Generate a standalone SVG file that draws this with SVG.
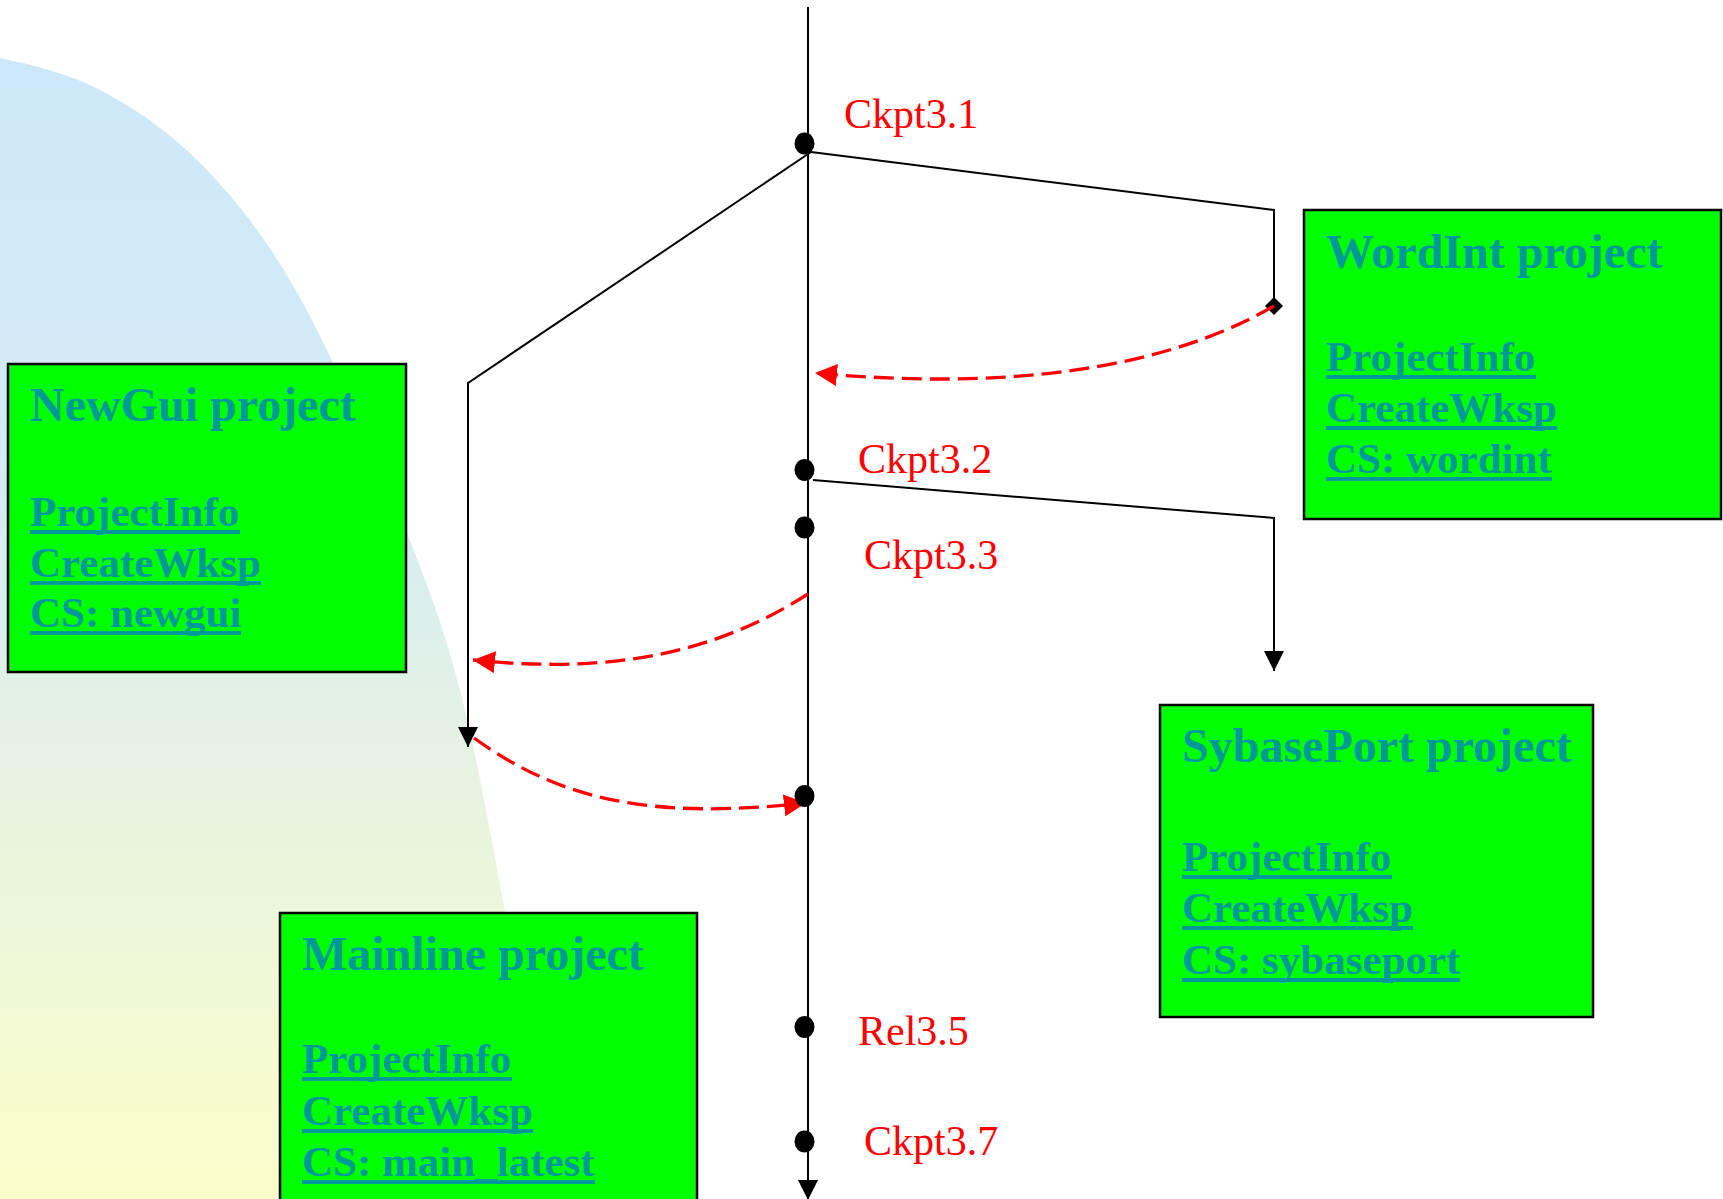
<svg xmlns="http://www.w3.org/2000/svg" width="1723" height="1199" viewBox="0 0 1723 1199">
  <defs>
    <linearGradient id="bgGrad" gradientUnits="userSpaceOnUse" x1="0" y1="58" x2="0" y2="1199">
      <stop offset="0" stop-color="#CDE8FA"/>
      <stop offset="0.38" stop-color="#D5ECF5"/>
      <stop offset="0.6" stop-color="#E4F2E3"/>
      <stop offset="1" stop-color="#FBFDC9"/>
    </linearGradient>
    <marker id="arrowBlack" markerUnits="userSpaceOnUse" markerWidth="20" markerHeight="20" viewBox="0 0 20 20" refX="20" refY="10" orient="auto">
      <path d="M0,0 L20,10 L0,20 Z" fill="#000"/>
    </marker>
    <marker id="arrowRed" markerUnits="userSpaceOnUse" markerWidth="22" markerHeight="22" viewBox="0 0 22 22" refX="22" refY="11" orient="auto">
      <path d="M0,0 L22,11 L0,22 Z" fill="#FF0000"/>
    </marker>
    <marker id="diamond" markerUnits="userSpaceOnUse" markerWidth="18" markerHeight="18" viewBox="0 0 18 18" refX="9" refY="9" orient="0">
      <path d="M0,9 L9,0 L18,9 L9,18 Z" fill="#000"/>
    </marker>
  </defs>
  <style>
    .box { fill: #00FF00; stroke: #000; stroke-width: 2.5; }
    .title { font-family: "Liberation Serif", "Times New Roman", serif; font-weight: bold; font-size: 48px; fill: #009999; }
    .link { font-family: "Liberation Serif", "Times New Roman", serif; font-weight: bold; font-size: 43px; fill: #009999; }
    .uline { stroke: #009999; stroke-width: 4; }
    .branch { fill: none; stroke: #000; stroke-width: 2; }
    .merge { fill: none; stroke: #FF0000; stroke-width: 3.3; stroke-dasharray: 20 8; }
    .dot { fill: #000; }
    .ckpt { font-family: "Liberation Serif", "Times New Roman", serif; font-size: 42px; fill: #FF0000; }
  </style>

  <!-- soft backdrop sweep on the left -->
  <g id="background">
    <path d="M-20,54 L0,58 C33,65 67,73 100,90 C133,107 167,130 200,163 C239,202 278,252 317,330 C347,390 377,455 407,533 C425,579 442,621 460,690 C475,748 490,830 505,912 C518,985 532,1093 545,1199 L0,1199 Z" fill="url(#bgGrad)"/>
  </g>

  <!-- project boxes -->
  <g id="node-newgui">
    <rect class="box" x="8" y="364" width="398" height="308"/>
    <text class="title" x="30" y="421">NewGui project</text>
    <text class="link" x="30" y="526">ProjectInfo</text>
    <line class="uline" x1="30" y1="532" x2="240" y2="532"/>
    <text class="link" x="30" y="577">CreateWksp</text>
    <line class="uline" x1="30" y1="583" x2="261" y2="583"/>
    <text class="link" x="30" y="627">CS: newgui</text>
    <line class="uline" x1="30" y1="633" x2="241" y2="633"/>
  </g>

  <g id="node-wordint">
    <rect class="box" x="1304" y="210" width="417" height="309"/>
    <text class="title" x="1326" y="268">WordInt project</text>
    <text class="link" x="1326" y="371">ProjectInfo</text>
    <line class="uline" x1="1326" y1="377" x2="1536" y2="377"/>
    <text class="link" x="1326" y="422">CreateWksp</text>
    <line class="uline" x1="1326" y1="428" x2="1557" y2="428"/>
    <text class="link" x="1326" y="473">CS: wordint</text>
    <line class="uline" x1="1326" y1="479" x2="1552" y2="479"/>
  </g>

  <g id="node-sybaseport">
    <rect class="box" x="1160" y="705" width="433" height="312"/>
    <text class="title" x="1182" y="762">SybasePort project</text>
    <text class="link" x="1182" y="871">ProjectInfo</text>
    <line class="uline" x1="1182" y1="877" x2="1392" y2="877"/>
    <text class="link" x="1182" y="922">CreateWksp</text>
    <line class="uline" x1="1182" y1="928" x2="1413" y2="928"/>
    <text class="link" x="1182" y="974">CS: sybaseport</text>
    <line class="uline" x1="1182" y1="980" x2="1460" y2="980"/>
  </g>

  <g id="node-mainline">
    <rect class="box" x="280" y="913" width="417" height="300"/>
    <text class="title" x="302" y="970">Mainline project</text>
    <text class="link" x="302" y="1073">ProjectInfo</text>
    <line class="uline" x1="302" y1="1079" x2="512" y2="1079"/>
    <text class="link" x="302" y="1125">CreateWksp</text>
    <line class="uline" x1="302" y1="1131" x2="533" y2="1131"/>
    <text class="link" x="302" y="1176">CS: main_latest</text>
    <line class="uline" x1="302" y1="1182" x2="595" y2="1182"/>
  </g>

  <!-- branch and merge lines -->
  <g id="connectors">
    <line class="branch" x1="808" y1="7" x2="808" y2="1200" marker-end="url(#arrowBlack)"/>
    <polyline class="branch" points="811,152 468,383 468,747" marker-end="url(#arrowBlack)"/>
    <polyline class="branch" points="811,152 1274,210 1274,306" marker-end="url(#diamond)"/>
    <polyline class="branch" points="813,480 1274,518 1274,671" marker-end="url(#arrowBlack)"/>
    <path class="merge" d="M1274,306 C1160,372 1000,390 815,373" marker-end="url(#arrowRed)"/>
    <path class="merge" d="M808,594 C720,650 620,675 473,660" marker-end="url(#arrowRed)"/>
    <path class="merge" d="M474,738 C560,800 650,820 806,803" marker-end="url(#arrowRed)"/>
  </g>

  <!-- checkpoints on the main line -->
  <g id="node-ckpt31">
    <ellipse class="dot" cx="804.5" cy="143.5" rx="10" ry="11"/>
    <text class="ckpt" x="844" y="128">Ckpt3.1</text>
  </g>
  <g id="node-ckpt32">
    <ellipse class="dot" cx="804.5" cy="470" rx="10" ry="11"/>
    <text class="ckpt" x="858" y="473">Ckpt3.2</text>
  </g>
  <g id="node-ckpt33">
    <ellipse class="dot" cx="804.5" cy="527.5" rx="10" ry="11"/>
    <text class="ckpt" x="864" y="569">Ckpt3.3</text>
  </g>
  <g id="node-merge">
    <ellipse class="dot" cx="804.5" cy="796" rx="10" ry="11"/>
  </g>
  <g id="node-rel35">
    <ellipse class="dot" cx="804.5" cy="1027" rx="10" ry="11"/>
    <text class="ckpt" x="858" y="1045">Rel3.5</text>
  </g>
  <g id="node-ckpt37">
    <ellipse class="dot" cx="804.5" cy="1141.5" rx="10" ry="11"/>
    <text class="ckpt" x="864" y="1155">Ckpt3.7</text>
  </g>
</svg>
